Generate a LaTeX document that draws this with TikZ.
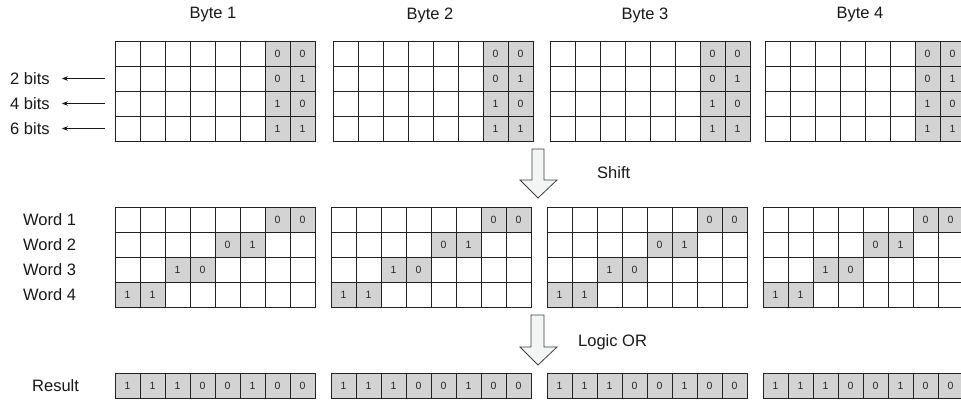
\documentclass[tikz,border=0pt]{standalone}
\usepackage{fontspec}
\setmainfont{Liberation Sans}
\usetikzlibrary{arrows.meta}
\definecolor{cellgray}{HTML}{D3D3D3}
\definecolor{linegray}{HTML}{222222}
\definecolor{arrowfill}{HTML}{F3F4F4}
\begin{document}
\begin{tikzpicture}[x=1pt,y=-1pt,
  cell/.style={draw=linegray, line width=0.9pt, minimum width=25pt, minimum height=25pt,
    inner sep=0pt, outer sep=0pt, anchor=north west, font=\fontsize{10.5}{11}\selectfont, text=black!85},
  on/.style={fill=cellgray},
  lbl/.style={font=\fontsize{16.5}{18}\selectfont, text=black!90, inner sep=0pt},
  smallarrow/.style={draw=black!90, line width=0.9pt, -{Stealth[length=6pt,width=4.5pt]}},
  bigarrow/.style={draw=black!75, fill=arrowfill, line width=0.8pt, line join=miter}]
\clip (0,0) rectangle (961,401);
\fill[white] (0,0) rectangle (961,401);

% byte titles
\node[lbl] (by1) at (213,15) {Byte 1};
\node[lbl] (by2) at (430,15) {Byte 2};
\node[lbl] (by3) at (645,15) {Byte 3};
\node[lbl] (by4) at (860,15) {Byte 4};

% top grids
\foreach \b/\xo in {1/115,2/333,3/550,4/765}{
  \foreach \r/\da/\db in {1/0/0,2/0/1,3/1/0,4/1/1}{
    \foreach \c in {1,...,6}{
      \node[cell] (t\b r\r c\c) at ({\xo+25*(\c-1)},{41+25*(\r-1)}) {};
    }
    \node[cell,on] (t\b r\r c7) at ({\xo+150},{41+25*(\r-1)}) {\da};
    \node[cell,on] (t\b r\r c8) at ({\xo+175},{41+25*(\r-1)}) {\db};
  }
}

% bit labels and arrows
\node[lbl,anchor=west] (l2) at (10,78.5) {2 bits};
\node[lbl,anchor=west] (l4) at (10,103.5) {4 bits};
\node[lbl,anchor=west] (l6) at (10,128.5) {6 bits};
\coordinate (s2) at (105,78.5);
\coordinate (s4) at (105,103.5);
\coordinate (s6) at (105,128.5);
\draw[smallarrow, shorten >=12pt] (s2) -- (l2.east);
\draw[smallarrow, shorten >=12pt] (s4) -- (l4.east);
\draw[smallarrow, shorten >=12pt] (s6) -- (l6.east);

% shift arrow
\draw[bigarrow] (532,149) -- (544,149) -- (544,180) -- (557,180) -- (538,198) -- (520,180) -- (532,180) -- cycle;
\node[lbl,anchor=west] (shift) at (597,173) {Shift};

% word labels
\node[lbl,anchor=west] (wl1) at (23,219.5) {Word 1};
\node[lbl,anchor=west] (wl2) at (23,244.5) {Word 2};
\node[lbl,anchor=west] (wl3) at (23,269.5) {Word 3};
\node[lbl,anchor=west] (wl4) at (23,294.5) {Word 4};

% word grids
\foreach \b/\xo in {1/115,2/331,3/547,4/763}{
  \foreach \r/\da/\db in {1/0/0,2/0/1,3/1/0,4/1/1}{
    \pgfmathtruncatemacro{\ga}{9-2*\r}
    \pgfmathtruncatemacro{\gb}{10-2*\r}
    \foreach \c in {1,...,8}{
      \ifnum\c=\ga\relax
        \node[cell,on] (w\b r\r c\c) at ({\xo+25*(\c-1)},{207+25*(\r-1)}) {\da};
      \else\ifnum\c=\gb\relax
        \node[cell,on] (w\b r\r c\c) at ({\xo+25*(\c-1)},{207+25*(\r-1)}) {\db};
      \else
        \node[cell] (w\b r\r c\c) at ({\xo+25*(\c-1)},{207+25*(\r-1)}) {};
      \fi\fi
    }
  }
}

% logic OR arrow
\draw[bigarrow] (531,315) -- (544,315) -- (544,347) -- (557,347) -- (538,365) -- (520,347) -- (531,347) -- cycle;
\node[lbl,anchor=west] (lor) at (578,342) {Logic OR};

% result
\node[lbl,anchor=west] (res) at (32,385.5) {Result};
\foreach \b/\xo in {1/115,2/331,3/547,4/763}{
  \foreach \c/\v in {1/1,2/1,3/1,4/0,5/0,6/1,7/0,8/0}{
    \node[cell,on] (r\b c\c) at ({\xo+25*(\c-1)},373) {\v};
  }
}
\end{tikzpicture}
\end{document}
